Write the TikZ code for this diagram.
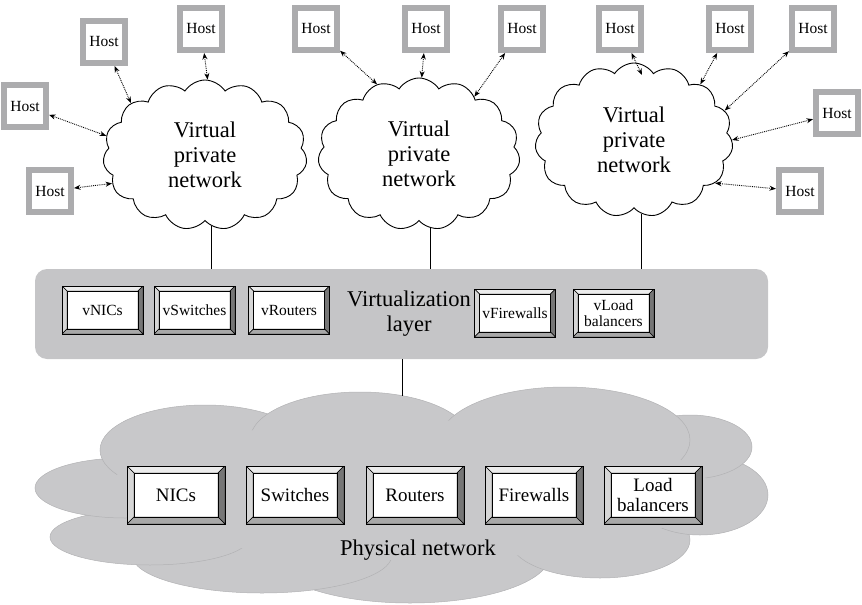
\documentclass[tikz,border=0pt]{standalone}
\usepackage{fontspec}
\setmainfont{Liberation Serif}
\usetikzlibrary{shapes.symbols, arrows.meta, positioning, calc}
\definecolor{FrameGray}{RGB}{172,172,174}
\definecolor{LayerGray}{RGB}{197,197,199}
\definecolor{CloudGray}{RGB}{200,200,202}
\definecolor{LobeEdge}{RGB}{178,178,180}
\definecolor{BevTop}{RGB}{236,236,236}
\definecolor{BevLeft}{RGB}{214,214,214}
\definecolor{BevRight}{RGB}{118,118,118}
\definecolor{BevBottom}{RGB}{168,168,168}
\newcommand{\vpnfont}{\fontsize{22.5}{25}\selectfont}
\newcommand{\hostfont}{\fontsize{15.5}{16}\selectfont}
\newcommand{\vboxfont}{\fontsize{15.5}{16}\selectfont}
\newcommand{\pboxfont}{\fontsize{19}{19.5}\selectfont}

\tikzset{
  bevel/.style={draw, line width=0.9pt, fill=white, align=center, inner sep=1pt,
    path picture={
      \path (path picture bounding box.north west) coordinate (bnw)
            (path picture bounding box.north east) coordinate (bne)
            (path picture bounding box.south west) coordinate (bsw)
            (path picture bounding box.south east) coordinate (bse);
      \filldraw[fill=BevTop, line width=0.5pt] (bnw) -- (bne)
            -- ([shift={(-#1,-#1)}]bne) -- ([shift={(#1,-#1)}]bnw) -- cycle;
      \filldraw[fill=BevLeft, line width=0.5pt] (bnw) -- ([shift={(#1,-#1)}]bnw)
            -- ([shift={(#1,#1)}]bsw) -- (bsw) -- cycle;
      \filldraw[fill=BevRight, line width=0.5pt] (bne) -- (bse)
            -- ([shift={(-#1,#1)}]bse) -- ([shift={(-#1,-#1)}]bne) -- cycle;
      \filldraw[fill=BevBottom, line width=0.5pt] (bsw) -- ([shift={(#1,#1)}]bsw)
            -- ([shift={(-#1,#1)}]bse) -- (bse) -- cycle;
      \draw[line width=0.7pt] ([shift={(#1,-#1)}]bnw) rectangle ([shift={(-#1,#1)}]bse);
    }}
}

\begin{document}
\begin{tikzpicture}[x=1pt, y=-1pt,
    host/.style={draw=FrameGray, line width=6pt, fill=white, minimum size=42pt,
                 inner sep=0pt, font=\hostfont},
    vpn/.style={cloud, cloud puffs=15, cloud puff arc=115, cloud ignores aspect,
                draw, fill=white, line width=0.9pt, align=center, font=\vpnfont},
    vbox/.style={bevel=5pt, minimum width=81pt, minimum height=48pt, font=\vboxfont},
    pbox/.style={bevel=7pt, minimum width=98pt, minimum height=58pt, font=\pboxfont},
    link/.style={densely dotted, line width=0.9pt,
                 {Stealth[length=6.5pt,width=5pt]}-{Stealth[length=6.5pt,width=5pt]}},
    lobe/.style={fill=CloudGray, draw=LobeEdge, line width=0.5pt}
  ]
  \useasboundingbox (0,0) rectangle (862,605);

  %--- Physical network cloud ---
  \foreach \cx/\cy/\rx/\ry in {410/555/140/48, 262/555/130/38, 150/537/100/28,
      600/540/90/38, 700/495/68/40, 690/447/62/32, 125/488/90/30,
      205/450/105/45, 360/440/110/48, 565/440/125/53} {
    \filldraw[lobe] (\cx,\cy) ellipse [x radius=\rx, y radius=\ry];
  }
  \fill[CloudGray] (410,490) ellipse [x radius=300, y radius=70];
  \coordinate (phystop) at (402,396);
  \node[font=\vpnfont] (physlbl) at (418,550) {Physical network};

  \foreach \n/\x/\t in {1/176/NICs, 2/295/Switches, 3/415/Routers, 4/534/Firewalls,
      5/653/{Load\\balancers}} {
    \node[pbox] (p\n) at (\x,495) {\t};
  }

  %--- Virtualization layer ---
  \node[rounded corners=12pt, fill=LayerGray, minimum width=733pt,
        minimum height=90pt] (layer) at (401.5,314) {};
  \node[font=\vpnfont, align=center] (vlbl) at (409,314) {Virtualization\\layer};
  \foreach \n/\x/\y/\t in {1/102.5/310/vNICs, 2/194.5/310/vSwitches,
      3/289/310/vRouters, 4/515/313/vFirewalls, 5/613.5/313/{vLoad\\balancers}} {
    \node[vbox] (v\n) at (\x,\y) {\t};
  }
  \draw[line width=0.9pt] (layer.south -| phystop) -- (phystop);

  %--- Virtual private networks ---
  \node[vpn, minimum width=204pt, minimum height=150pt] (vpn1) at (205,155)
       {Virtual\\private\\network};
  \node[vpn, minimum width=202pt, minimum height=152pt] (vpn2) at (419,154)
       {Virtual\\private\\network};
  \node[vpn, minimum width=198pt, minimum height=154pt] (vpn3) at (634,140)
       {Virtual\\private\\network};
  \foreach \c/\a in {1/275, 2/279, 3/276} {
    \draw[line width=0.9pt] (vpn\c.\a) -- (vpn\c.\a |- layer.north);
  }

  %--- Hosts ---
  \foreach \n/\x/\y in {1/104/42, 2/201/29, 3/25/106, 4/50/191, 5/316/29,
      6/426/29, 7/522/29, 8/620/29, 9/730/29, 10/813/29, 11/837/113, 12/800/191} {
    \node[host] (h\n) at (\x,\y) {Host};
  }
  \foreach \h/\c/\a in {1/1/145, 2/1/88, 3/1/169, 4/1/197, 5/2/121, 6/2/88,
      7/2/46, 9/3/40, 10/3/18, 11/3/0, 12/3/332} {
    \draw[link] (h\h) -- (vpn\c.\a);
  }
  \draw[link] (h8) -- ([yshift=-11pt]vpn3.84);
\end{tikzpicture}
\end{document}
